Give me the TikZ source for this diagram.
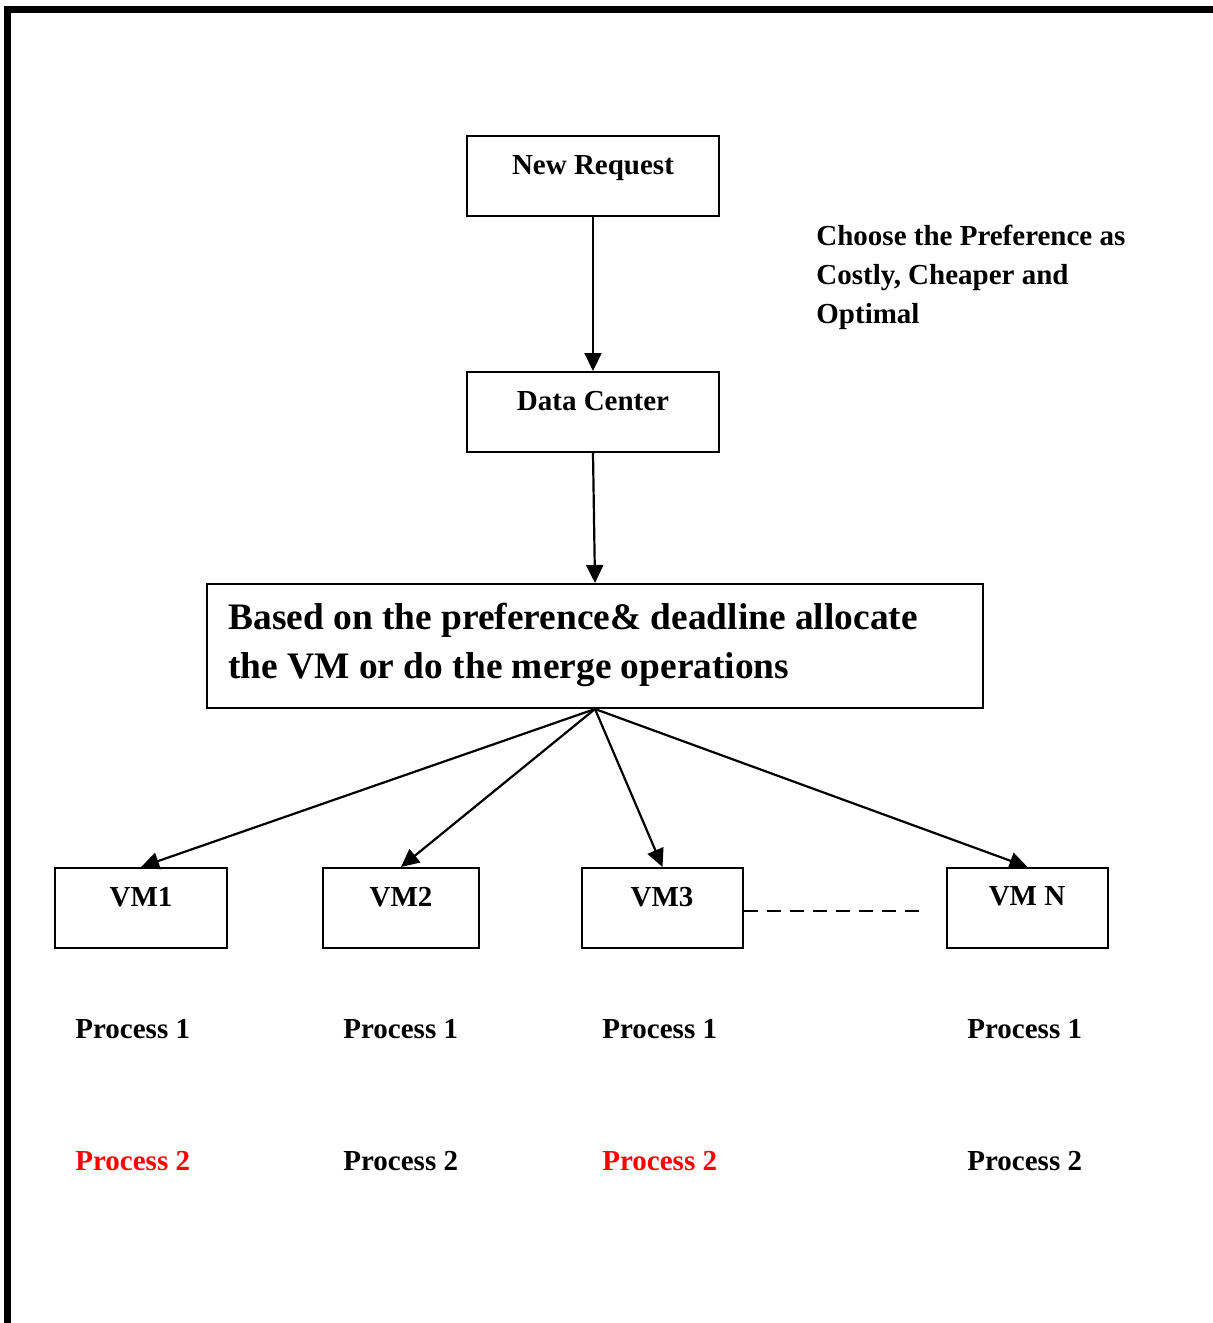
\documentclass[tikz,border=0pt]{standalone}
\usepackage{fontspec}
\setmainfont{Liberation Serif}
\usetikzlibrary{arrows.meta}
\begin{document}
\begin{tikzpicture}[x=0.5pt,y=-0.5pt,
  box/.style={draw,line width=1pt,minimum height=40pt,inner sep=0pt},
  lbl/.style={font=\bfseries\fontsize{14.5}{19.5}\selectfont,inner sep=0pt,anchor=base},
  plbl/.style={font=\bfseries\fontsize{14.5}{19.5}\selectfont,inner sep=0pt,anchor=base west},
  arr/.style={line width=1.1pt,-{Triangle[length=9pt,width=8.5pt]}},
  red2/.style={text=red}]
\useasboundingbox (0,0) rectangle (1212,1323);
\draw[line width=3.5pt] (7.5,1330) -- (7.5,9) -- (1220,9);
% boxes
\node[box,minimum width=126pt] (nr) at (593,176) {};
\node[box,minimum width=126pt] (dc) at (593,412) {};
\node[box,minimum width=388pt,minimum height=62pt] (big) at (595,646) {};
\node[box,minimum width=86pt] (vm1) at (141,908) {};
\node[box,minimum width=78pt] (vm2) at (401,908) {};
\node[box,minimum width=80.5pt] (vm3) at (662.5,908) {};
\node[box,minimum width=80.5pt] (vmn) at (1027.5,908) {};
% box texts
\node[lbl] (nrt) at (593,174) {New Request};
\node[lbl] (dct) at (593,410) {Data Center};
\node[font=\bfseries\fontsize{18.7}{24.5}\selectfont,inner sep=0pt,anchor=base west,align=left] (bigt) at (228,678) {Based on the preference\& deadline allocate\\the VM or do the merge operations};
\node[lbl] (vm1t) at (141,906) {VM1};
\node[lbl] (vm2t) at (401,906) {VM2};
\node[lbl] (vm3t) at (662,906) {VM3};
\node[lbl] (vmnt) at (1027,905) {VM N};
% side note
\node[plbl,align=left] (note) at (816,323) {Choose the Preference as\\Costly, Cheaper and\\Optimal};
% process labels
\node[plbl] (p11) at (75,1038) {Process 1};
\node[plbl] (p12) at (343,1038) {Process 1};
\node[plbl] (p13) at (602,1038) {Process 1};
\node[plbl] (p14) at (967,1038) {Process 1};
\node[plbl,red2] (p21) at (75,1170) {Process 2};
\node[plbl] (p22) at (343,1170) {Process 2};
\node[plbl,red2] (p23) at (602,1170) {Process 2};
\node[plbl] (p24) at (967,1170) {Process 2};
% connectors
\draw[arr] (nr.south) -- (dc.north);
\draw[arr] (dc.south) -- (big.south |- big.north);
\coordinate (apex) at (big.south);
\draw[arr] (apex) -- (vm1.north);
\draw[arr] (apex) -- (vm2.north);
\draw[arr] (apex) -- (vm3.north);
\draw[arr] (apex) -- (vmn.north);
\coordinate (dend) at (928,911);
\draw[line width=1pt,dash pattern=on 7pt off 4.5pt] (vm3.east |- dend) -- (dend);
\end{tikzpicture}
\end{document}
